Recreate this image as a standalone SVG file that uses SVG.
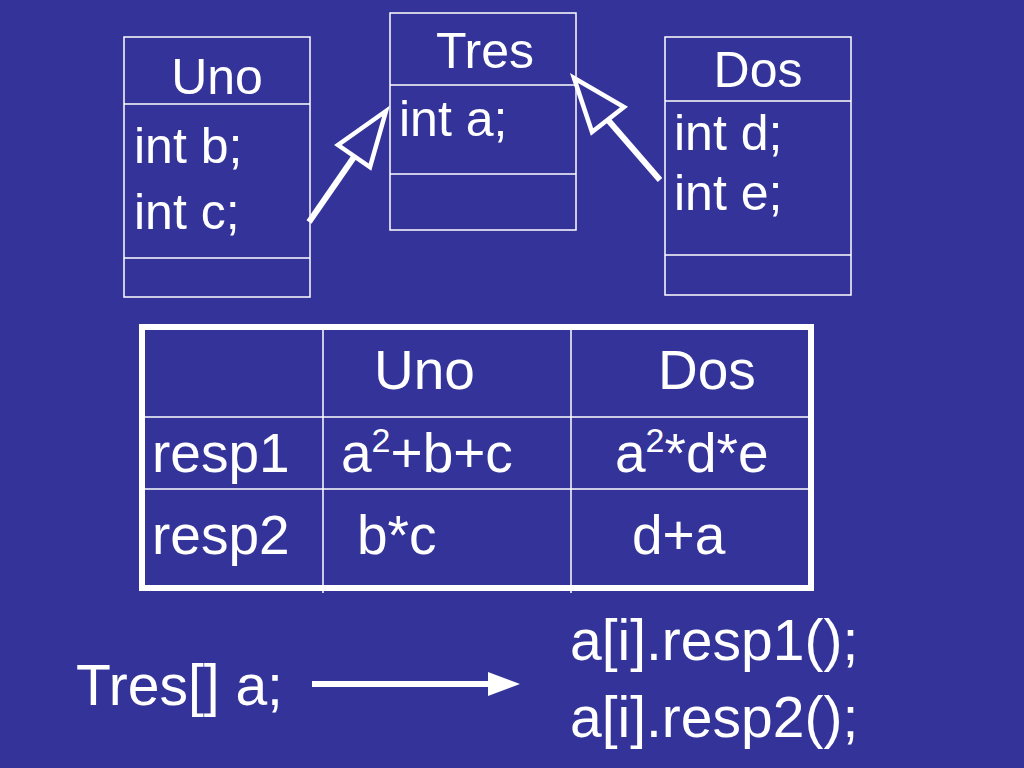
<svg xmlns="http://www.w3.org/2000/svg" width="1024" height="768" viewBox="0 0 1024 768">
<style>
.box{fill:none;stroke:#fff;stroke-width:1.5}
.t{font-family:"Liberation Sans",Arial,sans-serif;fill:#fff}
.c{stroke:#fff;stroke-width:6;fill:none}
.h{stroke:#fff;stroke-width:4.5;fill:#333399;stroke-linejoin:miter}
</style>
<rect width="1024" height="768" fill="#333399"/>
<g id="uno">
<rect class="box" x="124" y="37" width="186" height="260"/>
<line class="box" x1="124" y1="104" x2="310" y2="104"/>
<line class="box" x1="124" y1="258" x2="310" y2="258"/>
<text class="t" x="217" y="94" font-size="50" text-anchor="middle">Uno</text>
<text class="t" x="134" y="163" font-size="50">int b;</text>
<text class="t" x="134" y="229" font-size="50">int c;</text>
</g>
<g id="tres">
<rect class="box" x="390" y="13" width="186" height="217"/>
<line class="box" x1="390" y1="85" x2="576" y2="85"/>
<line class="box" x1="390" y1="174" x2="576" y2="174"/>
<text class="t" x="485" y="68" font-size="50" text-anchor="middle">Tres</text>
<text class="t" x="399" y="136" font-size="50">int a;</text>
</g>
<g id="dos">
<rect class="box" x="665" y="37" width="186" height="258"/>
<line class="box" x1="665" y1="101" x2="851" y2="101"/>
<line class="box" x1="665" y1="255" x2="851" y2="255"/>
<text class="t" x="758" y="87" font-size="50" text-anchor="middle">Dos</text>
<text class="t" x="674" y="150" font-size="50">int d;</text>
<text class="t" x="674" y="210" font-size="50">int e;</text>
</g>
<g id="table">
<rect x="142" y="327" width="669" height="261" fill="none" stroke="#fff" stroke-width="6"/>
<line class="box" x1="323" y1="330" x2="323" y2="593"/>
<line class="box" x1="571" y1="330" x2="571" y2="593"/>
<line class="box" x1="145" y1="417" x2="808" y2="417"/>
<line class="box" x1="145" y1="489" x2="808" y2="489"/>
<g class="t" font-size="55">
<text x="374" y="389">Uno</text>
<text x="658" y="389">Dos</text>
<text x="152" y="472">resp1</text>
<text x="341" y="472">a<tspan font-size="34" dy="-20">2</tspan><tspan dy="20">+b+c</tspan></text>
<text x="615" y="472">a<tspan font-size="34" dy="-20">2</tspan><tspan dy="20">*d*e</tspan></text>
<text x="152" y="554">resp2</text>
<text x="357" y="554">b*c</text>
<text x="632" y="554">d+a</text>
</g>
</g>
<g id="calls" class="t" font-size="57">
<text x="76" y="705">Tres[] a;</text>
<text x="570" y="660">a[i].resp1();</text>
<text x="570" y="737">a[i].resp2();</text>
</g>
<g id="connectors">
<line class="c" x1="309" y1="222" x2="354" y2="157"/>
<polygon class="h" points="386,111 338,145 370,167"/>
<line class="c" x1="660" y1="180" x2="608" y2="120"/>
<polygon class="h" points="574,78 592,132 624,107"/>
<line class="c" x1="312" y1="684" x2="490" y2="684"/>
<polygon points="520,684 488,672 488,696" fill="#fff"/>
</g>
</svg>
